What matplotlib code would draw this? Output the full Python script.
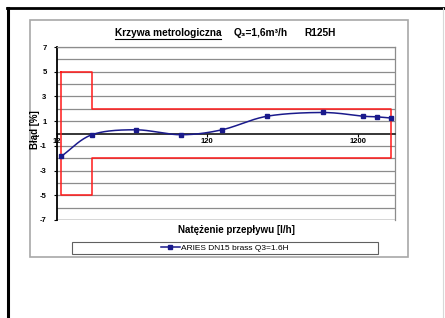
import matplotlib
matplotlib.use("Agg")
import matplotlib.pyplot as plt
import numpy as np
from matplotlib.lines import Line2D
from matplotlib.patches import Rectangle
from matplotlib.ticker import FixedLocator, NullLocator

plt.rcParams["font.family"] = ["Liberation Sans", "DejaVu Sans"]

# measured points (flow l/h, error %)
flow = [12.8, 20.48, 40, 80, 150, 300, 700, 1300, 1600, 2000]
error = [-1.85, -0.1, 0.3, -0.1, 0.3, 1.4, 1.7, 1.4, 1.35, 1.25]
series_name = "ARIES DN15 brass Q3=1.6H"

# MPE envelope: Q1, Q2, Q4 and limits
q1, q2, q4 = 12.8, 20.48, 2000
mpe_low, mpe_high = 5, 2

x_ticks = [12, 120, 1200]
y_ticks = [-7, -5, -3, -1, 1, 3, 5, 7]

W, H = 445, 318


def fx(px):
    return px / W


def fy(py):
    return 1 - py / H


def smooth(xs, ys, n=30):
    # catmull-rom through the points in log-x space (like the Excel smoothed line)
    lx = np.log10(xs)
    ys = np.asarray(ys, float)
    px = np.concatenate([[2 * lx[0] - lx[1]], lx, [2 * lx[-1] - lx[-2]]])
    py = np.concatenate([[2 * ys[0] - ys[1]], ys, [2 * ys[-1] - ys[-2]]])
    ox, oy = [], []
    t = np.linspace(0, 1, n)
    for i in range(1, len(px) - 2):
        for arr, out in ((px, ox), (py, oy)):
            p0, p1, p2, p3 = arr[i - 1], arr[i], arr[i + 1], arr[i + 2]
            out.extend(0.5 * ((2 * p1) + (-p0 + p2) * t
                              + (2 * p0 - 5 * p1 + 4 * p2 - p3) * t ** 2
                              + (-p0 + 3 * p1 - 3 * p2 + p3) * t ** 3))
    return 10 ** np.array(ox), np.array(oy)


fig = plt.figure(figsize=(W / 100, H / 100), dpi=100)

# page frame
fig.add_artist(Line2D([fx(7), fx(445)], [fy(8), fy(8)], color="black", lw=2))
fig.add_artist(Line2D([fx(8), fx(8)], [fy(8), 0], color="black", lw=2.2))
fig.add_artist(Line2D([fx(443), fx(443)], [fy(8), 0], color="#d8d8d8", lw=0.8))
# chart area border
fig.add_artist(Rectangle((fx(30), fy(257)), fx(378), (257 - 20) / H,
                         fill=False, edgecolor="#a8a8a8", lw=1.2))

ax = fig.add_axes([fx(57), fy(220), fx(338), (220 - 47) / H])
ax.set_xscale("log")
ax.set_xlim(12, 2120)
ax.set_ylim(-7, 7)

for v in range(-7, 8):
    if v != 0:
        ax.axhline(v, color="#8c8c8c", lw=0.9, zorder=1)

env_x = [q1, q2, q2, q4, q4, q2, q2, q1, q1]
env_y = [mpe_low, mpe_low, mpe_high, mpe_high, -mpe_high, -mpe_high, -mpe_low, -mpe_low, mpe_low]
ax.plot(env_x, env_y, color="#ff1a1a", lw=1.1, zorder=3)

sx, sy = smooth(flow, error)
ax.plot(sx, sy, color="#1a1a8c", lw=1.1, zorder=4)
ax.plot(flow, error, ls="none", marker="s", ms=2.6, color="#1a1a8c", zorder=5)

ax.spines["bottom"].set_position(("data", 0))
ax.spines["bottom"].set_color("black")
ax.spines["bottom"].set_linewidth(1.1)
ax.spines["left"].set_color("black")
ax.spines["left"].set_linewidth(1.3)
for s in ("top", "right"):
    ax.spines[s].set_color("#8c8c8c")
    ax.spines[s].set_linewidth(0.9)
ax.axhline(-7, color="#707070", lw=1.0, zorder=2)

ax.xaxis.set_major_locator(FixedLocator(x_ticks))
ax.xaxis.set_minor_locator(NullLocator())
ax.set_xticklabels([str(t) for t in x_ticks], fontsize=5.5, fontweight="bold")
ax.tick_params(axis="x", length=2, width=0.8, pad=1)
ax.set_yticks(y_ticks)
ax.set_yticklabels([str(t) for t in y_ticks], fontsize=5.5, fontweight="bold")
ax.tick_params(axis="y", length=2.5, width=0.8, pad=5)

fig.text(fx(35), fy(130), "Błąd [%]", rotation=90, ha="center", va="center",
         fontsize=7, fontweight="bold")

t1 = fig.text(fx(168), fy(33), "Krzywa metrologiczna", ha="center", va="center",
              fontsize=7.3, fontweight="bold")
fig.text(fx(261), fy(33), "Q₃=1,6m³/h", ha="center", va="center",
         fontsize=7.3, fontweight="bold")
fig.text(fx(320), fy(33), "R125H", ha="center", va="center",
         fontsize=7.3, fontweight="bold")
fig.canvas.draw()
bb = t1.get_window_extent()
fig.add_artist(Line2D([bb.x0 / W, bb.x1 / W], [(bb.y0 - 1) / H] * 2, color="black", lw=0.8))

fig.text(fx(236), fy(230), "Natężenie przepływu [l/h]", ha="center", va="center",
         fontsize=7, fontweight="bold")

# legend
fig.add_artist(Rectangle((fx(72), fy(254)), fx(306), 12 / H, fill=False,
                         edgecolor="#606060", lw=0.8))
handle = Line2D([], [], color="#1a1a8c", lw=1.1, marker="s", ms=2.6)
fig.legend([handle], [series_name], loc="center", bbox_to_anchor=(fx(225), fy(248)),
           frameon=False, fontsize=6, handlelength=2.2, handletextpad=0.2,
           borderpad=0, borderaxespad=0)

fig.savefig("out.png", dpi=100)
